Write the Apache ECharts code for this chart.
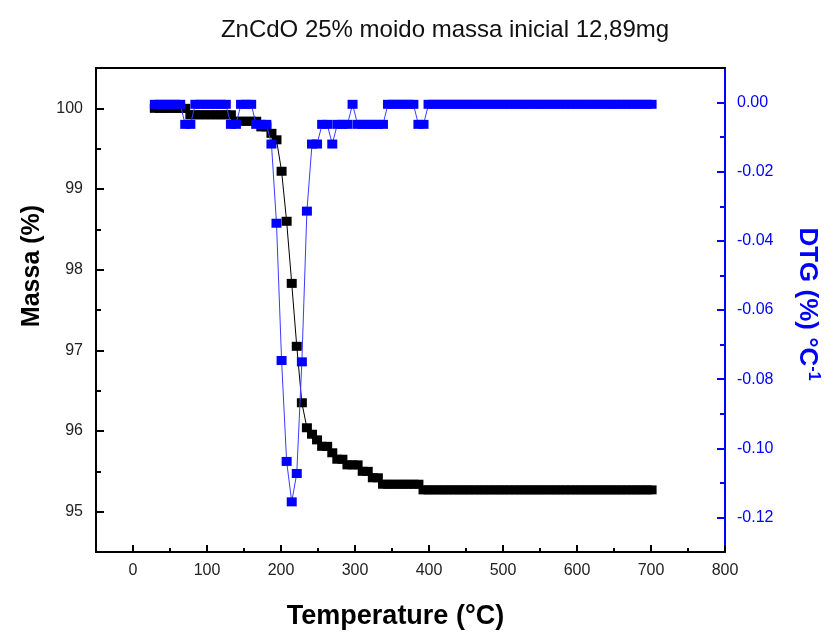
<!DOCTYPE html>
<html><head><meta charset="utf-8">
<script src="https://cdn.jsdelivr.net/npm/echarts@6/dist/echarts.min.js"></script>
<style>html,body{margin:0;padding:0;background:#fff}#c{width:829px;height:635px}</style>
</head><body><div id="c"></div>
<script>
const temperature = [
  29.5, 36.4, 43.2, 50.1, 56.9, 63.8, 70.6, 77.5, 84.3, 91.2,
  98.0, 104.9, 111.7, 118.6, 125.4, 132.3, 139.1, 146.0, 152.8, 159.7,
  166.5, 173.4, 180.2, 187.1, 193.9, 200.8, 207.6, 214.5, 221.3, 228.2,
  235.0, 241.9, 248.7, 255.6, 262.4, 269.3, 276.1, 283.0, 289.8, 296.7,
  303.5, 310.4, 317.2, 324.1, 330.9, 337.8, 344.6, 351.5, 358.3, 365.2,
  372.0, 378.9, 385.7, 392.6, 399.4, 406.3, 413.1, 420.0, 426.8, 433.7,
  440.5, 447.4, 454.2, 461.1, 467.9, 474.8, 481.6, 488.5, 495.3, 502.2,
  509.0, 515.9, 522.7, 529.6, 536.4, 543.3, 550.1, 557.0, 563.8, 570.7,
  577.5, 584.4, 591.2, 598.1, 604.9, 611.8, 618.6, 625.5, 632.3, 639.2,
  646.0, 652.9, 659.7, 666.6, 673.4, 680.3, 687.1, 694.0, 700.8
];
const massa = [
  100.00, 100.00, 100.00, 100.00, 100.00, 100.00, 100.00, 99.92, 99.92, 99.92,
  99.92, 99.92, 99.92, 99.92, 99.92, 99.92, 99.84, 99.84, 99.84, 99.84,
  99.84, 99.77, 99.77, 99.69, 99.61, 99.22, 98.60, 97.83, 97.05, 96.35,
  96.04, 95.96, 95.89, 95.81, 95.81, 95.73, 95.65, 95.65, 95.58, 95.58,
  95.58, 95.50, 95.50, 95.42, 95.42, 95.34, 95.34, 95.34, 95.34, 95.34,
  95.34, 95.34, 95.34, 95.27, 95.27, 95.27, 95.27, 95.27, 95.27, 95.27,
  95.27, 95.27, 95.27, 95.27, 95.27, 95.27, 95.27, 95.27, 95.27, 95.27,
  95.27, 95.27, 95.27, 95.27, 95.27, 95.27, 95.27, 95.27, 95.27, 95.27,
  95.27, 95.27, 95.27, 95.27, 95.27, 95.27, 95.27, 95.27, 95.27, 95.27,
  95.27, 95.27, 95.27, 95.27, 95.27, 95.27, 95.27, 95.27, 95.27
];
const dtg = [
  -0.0005, -0.0005, -0.0005, -0.0005, -0.0005, -0.0005, -0.0063, -0.0063, -0.0005, -0.0005,
  -0.0005, -0.0005, -0.0005, -0.0005, -0.0005, -0.0063, -0.0063, -0.0005, -0.0005, -0.0005,
  -0.0063, -0.0063, -0.0063, -0.0120, -0.0349, -0.0746, -0.1038, -0.1155, -0.1073, -0.0750,
  -0.0314, -0.0120, -0.0120, -0.0063, -0.0063, -0.0120, -0.0063, -0.0063, -0.0063, -0.0005,
  -0.0063, -0.0063, -0.0063, -0.0063, -0.0063, -0.0063, -0.0005, -0.0005, -0.0005, -0.0005,
  -0.0005, -0.0005, -0.0063, -0.0063, -0.0005, -0.0005, -0.0005, -0.0005, -0.0005, -0.0005,
  -0.0005, -0.0005, -0.0005, -0.0005, -0.0005, -0.0005, -0.0005, -0.0005, -0.0005, -0.0005,
  -0.0005, -0.0005, -0.0005, -0.0005, -0.0005, -0.0005, -0.0005, -0.0005, -0.0005, -0.0005,
  -0.0005, -0.0005, -0.0005, -0.0005, -0.0005, -0.0005, -0.0005, -0.0005, -0.0005, -0.0005,
  -0.0005, -0.0005, -0.0005, -0.0005, -0.0005, -0.0005, -0.0005, -0.0005, -0.0005
];
const xTicks = [0, 100, 200, 300, 400, 500, 600, 700, 800];
const xMinorTicks = [50, 150, 250, 350, 450, 550, 650, 750];
const massaTicks = [95, 96, 97, 98, 99, 100];
const massaMinorTicks = [95.5, 96.5, 97.5, 98.5, 99.5];
const dtgTicks = [0, -0.02, -0.04, -0.06, -0.08, -0.10, -0.12];
const dtgMinorTicks = [-0.01, -0.03, -0.05, -0.07, -0.09, -0.11];

const FONT = '"Liberation Sans", Arial, sans-serif';
const BLUE = '#0000ff';
const chart = echarts.init(document.getElementById('c'), null, {renderer: 'canvas'});
const xRange = {min: -50, max: 800};
const yLeft = {min: 94.5, max: 100.5};
const yRight = {min: -0.13, max: 0.01};

chart.setOption({
  animation: false,
  backgroundColor: '#fff',
  title: {
    text: 'ZnCdO 25% moido massa inicial 12,89mg',
    left: 440, top: 13, textAlign: 'center',
    textStyle: {fontFamily: FONT, fontSize: 24, fontWeight: 'normal', color: '#111'}
  },
  grid: {left: 96, right: 100, top: 68, bottom: 77, containLabel: false},
  xAxis: [
    Object.assign({type: 'value', position: 'bottom',
      axisLine: {show: true, onZero: false, lineStyle: {color: '#000', width: 2}},
      axisTick: {show: true, inside: true, length: 7, customValues: xTicks, lineStyle: {color: '#000', width: 2}},
      axisLabel: {show: true, customValues: xTicks, fontFamily: FONT, fontSize: 16, color: '#222', margin: 11},
      splitLine: {show: false},
      name: 'Temperature (°C)', nameLocation: 'middle', nameGap: 51,
      nameTextStyle: {fontFamily: FONT, fontSize: 27, fontWeight: 'bold', color: '#000', padding: [0, 30, 0, 0]}
    }, xRange),
    Object.assign({type: 'value', position: 'bottom',
      axisLine: {show: false, onZero: false},
      axisTick: {show: true, inside: true, length: 4, customValues: xMinorTicks, lineStyle: {color: '#000', width: 2}},
      axisLabel: {show: false}, splitLine: {show: false}
    }, xRange),
    Object.assign({type: 'value', position: 'top',
      axisLine: {show: true, onZero: false, lineStyle: {color: '#000', width: 2}},
      axisTick: {show: false}, axisLabel: {show: false}, splitLine: {show: false}
    }, xRange)
  ],
  yAxis: [
    Object.assign({type: 'value', position: 'left',
      axisLine: {show: true, onZero: false, lineStyle: {color: '#000', width: 2}},
      axisTick: {show: true, inside: true, length: 8, customValues: massaTicks, lineStyle: {color: '#000', width: 2}},
      axisLabel: {show: true, customValues: massaTicks, fontFamily: FONT, fontSize: 16, color: '#222', margin: 13},
      splitLine: {show: false},
      name: 'Massa (%)', nameLocation: 'middle', nameGap: 51, nameRotate: 90,
      nameTextStyle: {fontFamily: FONT, fontSize: 25, fontWeight: 'bold', color: '#000', padding: [0, 0, 0, 88]}
    }, yLeft),
    Object.assign({type: 'value', position: 'left',
      axisLine: {show: false, onZero: false},
      axisTick: {show: true, inside: true, length: 5, customValues: massaMinorTicks, lineStyle: {color: '#000', width: 2}},
      axisLabel: {show: false}, splitLine: {show: false}
    }, yLeft),
    Object.assign({type: 'value', position: 'right',
      axisLine: {show: true, onZero: false, lineStyle: {color: BLUE, width: 2}},
      axisTick: {show: true, inside: true, length: 8, customValues: dtgTicks, lineStyle: {color: BLUE, width: 2}},
      axisLabel: {show: true, customValues: dtgTicks, fontFamily: FONT, fontSize: 16, color: BLUE, margin: 12,
        formatter: v => (Math.abs(v) < 1e-9 ? 0 : v).toFixed(2)},
      splitLine: {show: false},
      name: 'DTG (%) °C{sup|-1}', nameLocation: 'middle', nameGap: 68, nameRotate: -90,
      nameTextStyle: {fontFamily: FONT, fontSize: 26, fontWeight: 'bold', color: BLUE, padding: [0, 12, 0, 0],
        rich: {sup: {fontFamily: FONT, fontSize: 16, fontWeight: 'bold', color: BLUE, padding: [0, 0, 12, 0]}}}
    }, yRight),
    Object.assign({type: 'value', position: 'right',
      axisLine: {show: false, onZero: false},
      axisTick: {show: true, inside: true, length: 5, customValues: dtgMinorTicks, lineStyle: {color: BLUE, width: 2}},
      axisLabel: {show: false}, splitLine: {show: false}
    }, yRight)
  ],
  series: [
    {
      type: 'line', name: 'Massa', xAxisIndex: 0, yAxisIndex: 0,
      data: temperature.map((t, i) => [t, massa[i]]),
      symbol: 'rect', symbolSize: [10, 9], showSymbol: true,
      itemStyle: {color: '#000'}, lineStyle: {color: '#000', width: 1}, z: 2
    },
    {
      type: 'line', name: 'DTG', xAxisIndex: 0, yAxisIndex: 2,
      data: temperature.map((t, i) => [t, dtg[i]]),
      symbol: 'rect', symbolSize: [10, 9], showSymbol: true,
      itemStyle: {color: BLUE}, lineStyle: {color: '#3c3cff', width: 1}, z: 3
    }
  ]
});
</script></body></html>
